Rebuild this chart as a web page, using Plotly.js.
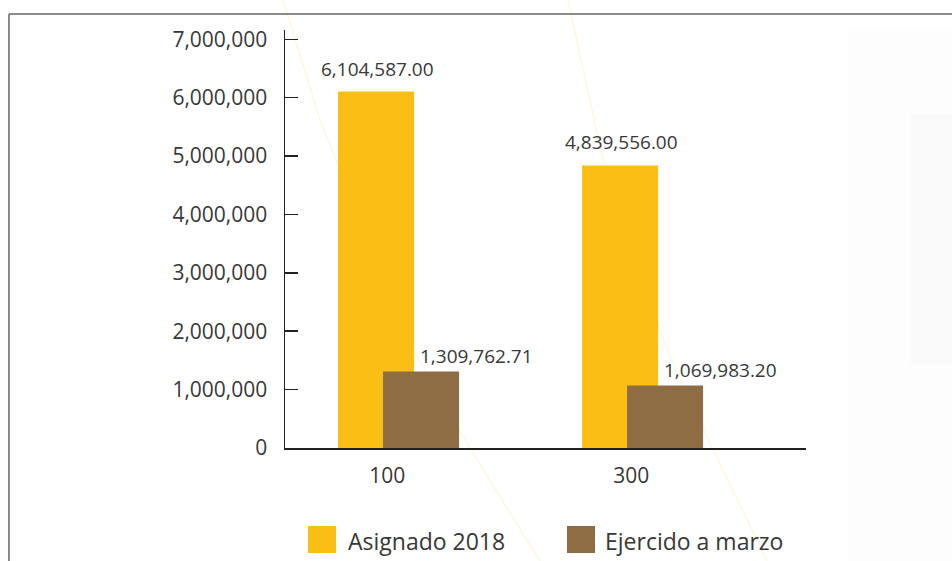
<!DOCTYPE html>
<html>
<head>
<meta charset="utf-8">
<script src="https://cdn.plot.ly/plotly-3.0.1.min.js"></script>
<style>html,body{margin:0;padding:0;background:#fff;}#chart{width:952px;height:561px;}</style>
</head>
<body>
<div id="chart"></div>
<script>
// ---- data ----
const categories = ["100", "300"];
const asignado = [6104587.00, 4839556.00];
const ejercido = [1309762.71, 1069983.20];
const seriesNames = ["Asignado 2018", "Ejercido a marzo"];
const yTickVals = [0, 1000000, 2000000, 3000000, 4000000, 5000000, 6000000, 7000000];

const yellow = "#FBBE14";
const brown = "#8E6C44";
const textCol = "#383838";
const FONT = "Open Sans, sans-serif";

const fmt = v => v.toLocaleString("en-US", {minimumFractionDigits: 2, maximumFractionDigits: 2});

const traces = [
  {type: "bar", x: categories, y: asignado, name: seriesNames[0],
   marker: {color: yellow}, width: 0.3115, offset: -0.2016, hoverinfo: "none", showlegend: false},
  {type: "bar", x: categories, y: ejercido, name: seriesNames[1],
   marker: {color: brown}, width: 0.3115, offset: -0.0172, hoverinfo: "none", showlegend: false}
];

const annotations = [];
categories.forEach((c, i) => {
  annotations.push({x: i, y: asignado[i], xref: "x", yref: "y", text: fmt(asignado[i]),
    showarrow: false, xanchor: "center", yanchor: "middle", xshift: -10, yshift: 23,
    font: {family: FONT, size: 19, color: textCol}});
  annotations.push({x: i, y: ejercido[i], xref: "x", yref: "y", text: fmt(ejercido[i]),
    showarrow: false, xanchor: "left", yanchor: "middle", xshift: 31, yshift: 16,
    font: {family: FONT, size: 19, color: textCol}});
});
// legend labels
annotations.push({x: 0.117, y: -0.222, xref: "paper", yref: "paper", text: seriesNames[0],
  showarrow: false, xanchor: "left", yanchor: "middle", font: {family: FONT, size: 23, color: textCol}});
annotations.push({x: 0.610, y: -0.222, xref: "paper", yref: "paper", text: seriesNames[1],
  showarrow: false, xanchor: "left", yanchor: "middle", font: {family: FONT, size: 23, color: textCol}});

const shapes = [
  // faint background blocks on the right
  {type: "rect", xref: "paper", yref: "paper", x0: 1.08, x1: 1.29, y0: -0.28, y1: 1.0,
   fillcolor: "rgba(0,0,0,0.008)", line: {width: 0}, layer: "below"},
  {type: "rect", xref: "paper", yref: "paper", x0: 1.2, x1: 1.29, y0: 0.2, y1: 0.8,
   fillcolor: "rgba(0,0,0,0.012)", line: {width: 0}, layer: "below"},
  // faint decorative curves
  {type: "path", xref: "paper", yref: "paper", layer: "below",
   path: "M -0.0038 1.0718 L 0.0672 0.7847 L 0.1500 0.5300 L 0.2457 0.2344 L 0.3550 0.0000 L 0.4760 -0.2440 L 0.4894 -0.2703",
   line: {color: "rgba(251,190,20,0.13)", width: 1.5}},
  {type: "path", xref: "paper", yref: "paper", layer: "below",
   path: "M 0.5432 1.0718 L 0.6084 0.7010 L 0.6650 0.4700 L 0.7332 0.2344 L 0.8200 0.0000 L 0.9251 -0.2703",
   line: {color: "rgba(251,190,20,0.13)", width: 1.5}},
  // outer frame (top and left)
  {type: "line", xref: "paper", yref: "paper", x0: -0.5298, x1: 1.3, y0: 1.0383, y1: 1.0383,
   line: {color: "#666", width: 1.5}},
  {type: "line", xref: "paper", yref: "paper", x0: -0.5298, x1: -0.5298, y0: 1.0383, y1: -0.3,
   line: {color: "#666", width: 1.5}},
  // legend swatches
  {type: "rect", xref: "paper", yref: "paper", x0: 0.0441, x1: 0.0979, y0: -0.2512, y1: -0.1866,
   fillcolor: yellow, line: {width: 0}},
  {type: "rect", xref: "paper", yref: "paper", x0: 0.5413, x1: 0.5950, y0: -0.2512, y1: -0.1866,
   fillcolor: brown, line: {width: 0}}
];

const layout = {
  width: 952, height: 561,
  margin: {l: 285, r: 146, t: 30, b: 113, pad: 0},
  paper_bgcolor: "#ffffff", plot_bgcolor: "rgba(0,0,0,0)",
  barmode: "overlay",
  showlegend: false,
  font: {family: FONT, color: textCol},
  xaxis: {type: "category", range: [-0.419, 1.716], showgrid: false, zeroline: false,
    showline: true, linecolor: "#222", linewidth: 2, ticks: "",
    tickfont: {family: FONT, size: 21, color: textCol}, ticklabelstandoff: 8, fixedrange: true},
  yaxis: {range: [0, 7160000], tickvals: yTickVals, tickformat: ",d", showgrid: false, zeroline: false,
    showline: true, linecolor: "#222", linewidth: 1.5, ticks: "inside", ticklen: 13, tickwidth: 1.5,
    tickcolor: "#222", tickfont: {family: FONT, size: 21, color: textCol}, ticklabelstandoff: 12,
    fixedrange: true},
  annotations: annotations,
  shapes: shapes
};

Plotly.newPlot("chart", traces, layout, {staticPlot: true, displayModeBar: false});
</script>
</body>
</html>
